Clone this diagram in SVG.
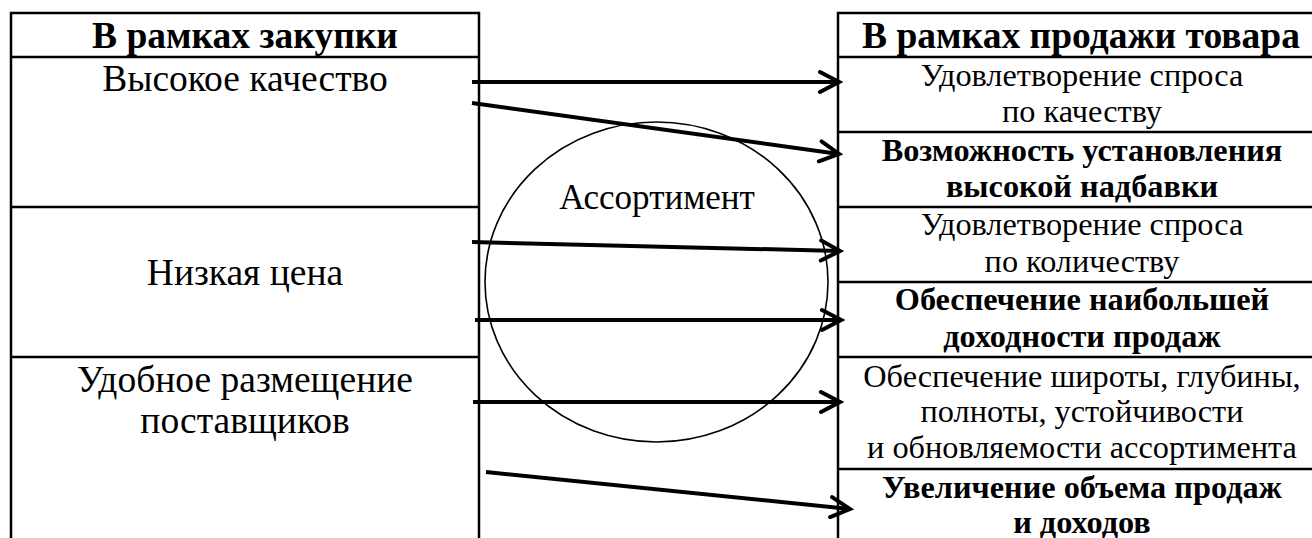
<svg xmlns="http://www.w3.org/2000/svg" width="1312" height="538" viewBox="0 0 1312 538">
  <style>
    .frame { fill: none; stroke: #000; stroke-width: 2.5; }
    .oval { fill: none; stroke: #000; stroke-width: 1.6; }
    .link { fill: none; stroke: #000; stroke-width: 4; marker-end: url(#chev); }
    text { font-family: "Liberation Serif", "Times New Roman", serif; fill: #000; text-anchor: middle; }
    .head { font-size: 37.5px; font-weight: bold; }
    .left { font-size: 37.5px; }
    .right { font-size: 32.3px; }
    .rightb { font-size: 32.3px; font-weight: bold; }
    .mid { font-size: 35px; }
  </style>
  <defs>
    <marker id="chev" markerUnits="userSpaceOnUse" viewBox="-24 -14 28 28" refX="0" refY="0" markerWidth="28" markerHeight="28" orient="auto">
      <path d="M -19 -10 L 0 0 L -19 10" fill="none" stroke="#000" stroke-width="4" stroke-linecap="round" stroke-linejoin="miter"/>
    </marker>
  </defs>
  <rect width="1312" height="538" fill="#fff"/>

  <!-- purchasing column -->
  <g id="purchase-column">
    <path class="frame" d="M 11 540 L 11 13 L 479 13 L 479 540 M 11 57 L 479 57 M 11 207 L 479 207 M 11 357 L 479 357"/>
    <text class="head" x="245" y="48">В рамках закупки</text>
  </g>
  <g id="p-quality">
    <text class="left" x="245" y="91">Высокое качество</text>
  </g>
  <g id="p-price">
    <text class="left" x="245" y="285">Низкая цена</text>
  </g>
  <g id="p-location">
    <text class="left" x="245" y="392">Удобное размещение</text>
    <text class="left" x="245" y="433">поставщиков</text>
  </g>

  <!-- assortment -->
  <g id="assortment">
    <ellipse class="oval" cx="656.5" cy="282" rx="171.5" ry="160"/>
    <text class="mid" x="657" y="209">Ассортимент</text>
  </g>

  <!-- sales column -->
  <g id="sales-column">
    <path class="frame" d="M 838 540 L 838 13 L 1314 13 M 838 57 L 1314 57 M 838 132 L 1314 132 M 838 207 L 1314 207 M 838 282 L 1314 282 M 838 357 L 1314 357 M 838 469 L 1314 469"/>
    <text class="head" x="1081" y="48">В рамках продажи товара</text>
  </g>
  <g id="s-demand-quality">
    <text class="right" x="1082" y="86">Удовлетворение спроса</text>
    <text class="right" x="1082" y="122">по качеству</text>
  </g>
  <g id="s-markup">
    <text class="rightb" x="1082" y="161">Возможность установления</text>
    <text class="rightb" x="1082" y="197">высокой надбавки</text>
  </g>
  <g id="s-demand-quantity">
    <text class="right" x="1082" y="235">Удовлетворение спроса</text>
    <text class="right" x="1082" y="272">по количеству</text>
  </g>
  <g id="s-profit">
    <text class="rightb" x="1082" y="310">Обеспечение наибольшей</text>
    <text class="rightb" x="1082" y="347">доходности продаж</text>
  </g>
  <g id="s-range">
    <text class="right" x="1082" y="387">Обеспечение широты, глубины,</text>
    <text class="right" x="1082" y="422">полноты, устойчивости</text>
    <text class="right" x="1082" y="458">и обновляемости ассортимента</text>
  </g>
  <g id="s-volume">
    <text class="rightb" x="1082" y="498">Увеличение объема продаж</text>
    <text class="rightb" x="1082" y="533">и доходов</text>
  </g>

  <!-- connectors -->
  <g id="connectors">
    <line class="link" x1="472" y1="82" x2="839" y2="82"/>
    <line class="link" x1="472" y1="103" x2="839" y2="154"/>
    <line class="link" x1="472" y1="242" x2="840" y2="251"/>
    <line class="link" x1="475" y1="320" x2="841" y2="320"/>
    <line class="link" x1="473" y1="402" x2="840" y2="402"/>
    <line class="link" x1="486" y1="472" x2="850" y2="509"/>
  </g>
</svg>
